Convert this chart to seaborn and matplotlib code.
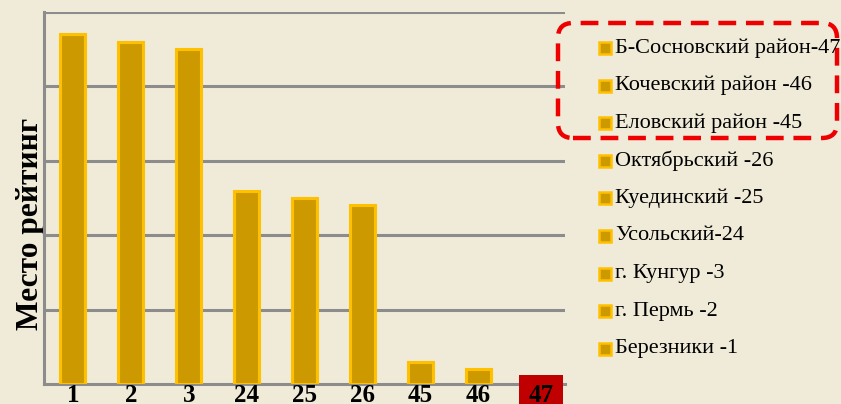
import matplotlib
matplotlib.use("Agg")
import matplotlib.pyplot as plt
import seaborn as sns
import pandas as pd
from matplotlib.patches import FancyBboxPatch, Rectangle
from matplotlib.transforms import IdentityTransform, ScaledTranslation

# ---- data ----
categories = ["1", "2", "3", "24", "25", "26", "45", "46", "47"]
values = [47, 46, 45, 26, 25, 24, 3, 2, 1]
legend_labels = ["Б-Сосновский район-47", "Кочевский район -46", "Еловский район -45",
                 "Октябрьский -26", "Куединский -25", "Усольский-24",
                 "г. Кунгур -3", "г. Пермь -2", "Березники -1"]
y_label = "Место рейтинг"

sns.set_theme(style="white")
plt.rcParams["font.family"] = ["Liberation Serif", "DejaVu Serif"]

BG = "#F0EBD8"
BAR = "#CC9900"
EDGE = "#FFC000"
GRID = "#8C8C8C"

W, H = 841, 404
fig = plt.figure(figsize=(W / 100, H / 100), dpi=100, facecolor=BG)
ax = fig.add_axes([44 / W, 1 - 384 / H, (565 - 44) / W, (384 - 12) / H])
ax.set_facecolor(BG)

df = pd.DataFrame({"cat": categories, "val": values})
sns.barplot(data=df, x="cat", y="val", order=categories, color=BAR,
            width=0.43, edgecolor=EDGE, linewidth=2.2, saturation=1, ax=ax, zorder=3)
for p in ax.patches:
    p.set_facecolor(BAR)
    p.set_zorder(3)

ax.set_ylim(0, 50)
ax.set_yticks([10, 20, 30, 40, 50])
ax.set_yticklabels([])
ax.tick_params(axis="y", length=0)
ax.tick_params(axis="x", length=0, pad=0)
ax.yaxis.grid(True, color=GRID, linewidth=2.2, zorder=0)
ax.set_axisbelow(True)
for s in ["right", "top"]:
    ax.spines[s].set_visible(False)
for s in ["left", "bottom"]:
    ax.spines[s].set_color(GRID)
    ax.spines[s].set_linewidth(2.2)
    ax.spines[s].set_zorder(1)

ax.set_xlabel("")
ax.set_ylabel(y_label, fontsize=22.6, fontweight="bold", color="black")
ax.yaxis.set_label_coords(0.002, 0.43)

ax.set_xticks(range(len(categories)))
ax.set_xticklabels(categories)
ax.xaxis.set_zorder(5)
for i, t in enumerate(ax.get_xticklabels()):
    t.set_fontsize(18)
    t.set_fontweight("bold")
    t.set_color("black")
    if i == len(categories) - 1:
        t.set_bbox(dict(facecolor="#C00000", edgecolor="none", pad=6.5))
        t.set_transform(t.get_transform() + ScaledTranslation(5 / 100, 0, fig.dpi_scale_trans))

# ---- legend (manual, figure pixel coords) ----
for i, lab in enumerate(legend_labels):
    yc = 48 + i * 37.6
    fig.add_artist(Rectangle((599, H - yc - 6), 12, 12, facecolor=BAR, edgecolor=EDGE,
                             linewidth=1.8, transform=IdentityTransform()))
    fig.text(615 / W, 1 - yc / H, lab, fontsize=16, va="center", ha="left", color="black")

box = FancyBboxPatch((558 + 15, H - 138 + 15), (837 - 558) - 30, (138 - 23) - 30,
                     boxstyle="round,pad=15", facecolor="none", edgecolor="#EE0000",
                     linewidth=3.2, linestyle=(0, (4, 2.2)), transform=IdentityTransform())
fig.add_artist(box)

fig.savefig("out.png", dpi=100, facecolor=BG)
